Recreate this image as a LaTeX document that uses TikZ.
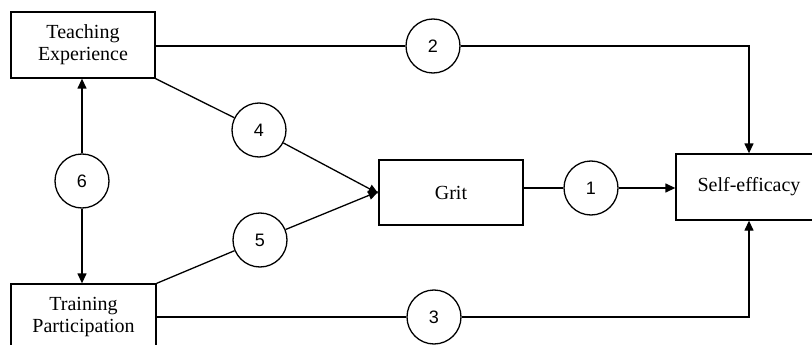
\documentclass[tikz,border=0pt]{standalone}
\usepackage{fontspec}
\setmainfont{Liberation Serif}
\newfontfamily\numfont{Liberation Sans}
\usetikzlibrary{arrows.meta}
\begin{document}
\begin{tikzpicture}[x=1pt,y=-1pt,
  box/.style={draw, line width=1.3pt, rectangle, inner sep=0pt, align=center,
    font=\fontsize{20}{22}\selectfont},
  num/.style={draw, line width=1.3pt, circle, minimum size=54pt, inner sep=0pt,
    font=\numfont\fontsize{18}{20}\selectfont},
  link/.style={line width=1.3pt},
  arr/.style={line width=1.3pt, -{Triangle[length=10pt,width=9pt]}}]
\useasboundingbox (0,0) rectangle (812,345);
\clip (0,0) rectangle (812,345);
\fill[white] (0,0) rectangle (812,345);
\node[box, minimum width=144pt, minimum height=66pt] (te) at (83,45) {Teaching\\Experience};
\node[box, minimum width=145pt, minimum height=66pt] (tp) at (83.5,317) {Training\\Participation};
\node[box, minimum width=144pt, minimum height=65pt] (grit) at (451,192.5) {Grit};
\node[box, minimum width=146pt, minimum height=66pt] (se) at (749,187) {Self-efficacy};
\node[num] (c1) at (591,188) {1};
\node[num] (c2) at (433,46) {2};
\node[num] (c3) at (434,317) {3};
\node[num] (c4) at (259,130) {4};
\node[num] (c5) at (260,240) {5};
\node[num] (c6) at (82,181) {6};
\draw[link] (te.east |- c2) -- (c2);
\draw[arr] (c2) -| (se.north);
\draw[link] (tp.east |- c3) -- (c3);
\draw[arr] (c3) -| (se.south);
\draw[link] (te.south east) -- (c4);
\draw[arr] (c4) -- ([yshift=-1pt]grit.west);
\draw[link] (tp.north east) -- (c5);
\draw[arr] (c5) -- ([yshift=1pt]grit.west);
\draw[link] (grit.east |- c1) -- (c1);
\draw[arr] (c1) -- (se.west |- c1);
\draw[arr] (c6) -- (c6 |- te.south);
\draw[arr] (c6) -- (c6 |- tp.north);
\end{tikzpicture}
\end{document}
